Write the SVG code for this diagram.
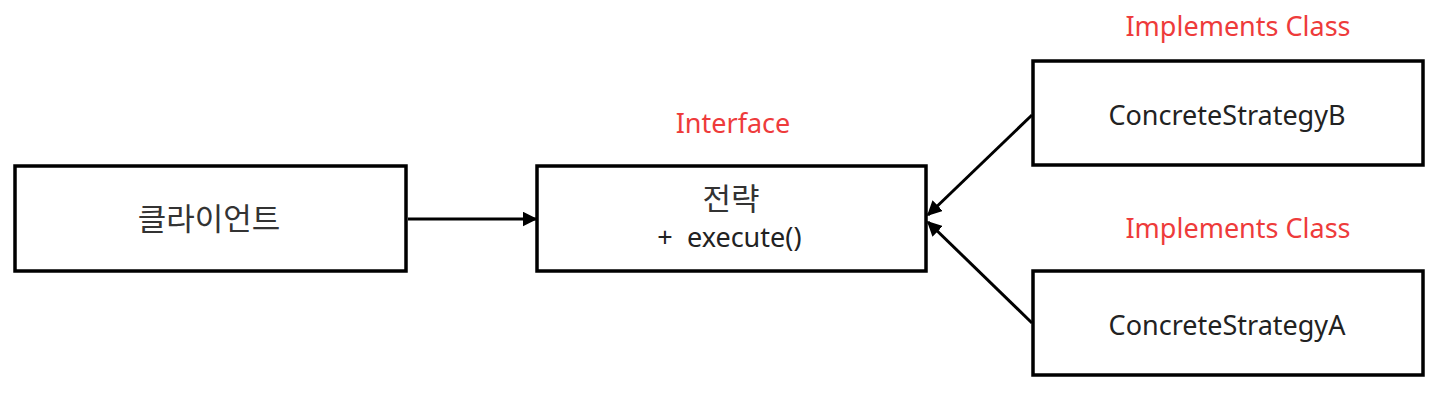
<svg xmlns="http://www.w3.org/2000/svg" width="1454" height="400" viewBox="0 0 1454 400">
<defs>
<style>
.box{fill:#fff;stroke:#000;stroke-width:3.5}
.t{font-family:"Noto Sans","Noto Sans CJK KR",sans-serif;font-size:27px;fill:#222;text-anchor:middle}
.k{font-family:"Noto Sans CJK KR","Noto Sans",sans-serif;font-size:31px;fill:#333;text-anchor:middle}
.lbl{font-family:"Noto Sans","Noto Sans CJK KR",sans-serif;font-size:27px;fill:#ee3b3b;text-anchor:middle}
.c{stroke:#000;stroke-width:3;fill:none}
</style>
<marker id="ah" viewBox="0 0 10 10" refX="9" refY="5" markerWidth="5" markerHeight="5" orient="auto" markerUnits="strokeWidth">
<path d="M0,0 L10,5 L0,10 z" fill="#000"/>
</marker>
</defs>
<rect width="1454" height="400" fill="#fff"/>
<g id="client">
<rect class="box" x="15" y="166" width="391" height="105"/>
<text class="k" x="209" y="230">클라이언트</text>
</g>
<g id="strategy">
<text class="lbl" x="733" y="133">Interface</text>
<rect class="box" x="537" y="166" width="389" height="105"/>
<text class="k" x="731" y="210">전략</text>
<text class="t" x="665" y="247">+</text>
<text class="t" x="687" y="247" style="text-anchor:start">execute()</text>
</g>
<g id="strategyB">
<text class="lbl" x="1238" y="36">Implements Class</text>
<rect class="box" x="1033" y="61" width="390" height="104"/>
<text class="t" x="1227" y="125">ConcreteStrategyB</text>
</g>
<g id="strategyA">
<text class="lbl" x="1238" y="238">Implements Class</text>
<rect class="box" x="1033" y="271" width="390" height="104"/>
<text class="t" x="1227" y="335">ConcreteStrategyA</text>
</g>
<g id="connectors">
<line class="c" x1="408" y1="219" x2="536" y2="219" marker-end="url(#ah)"/>
<line class="c" x1="1032" y1="115" x2="928" y2="215" marker-end="url(#ah)"/>
<line class="c" x1="1032" y1="323" x2="928" y2="222" marker-end="url(#ah)"/>
</g>
</svg>
